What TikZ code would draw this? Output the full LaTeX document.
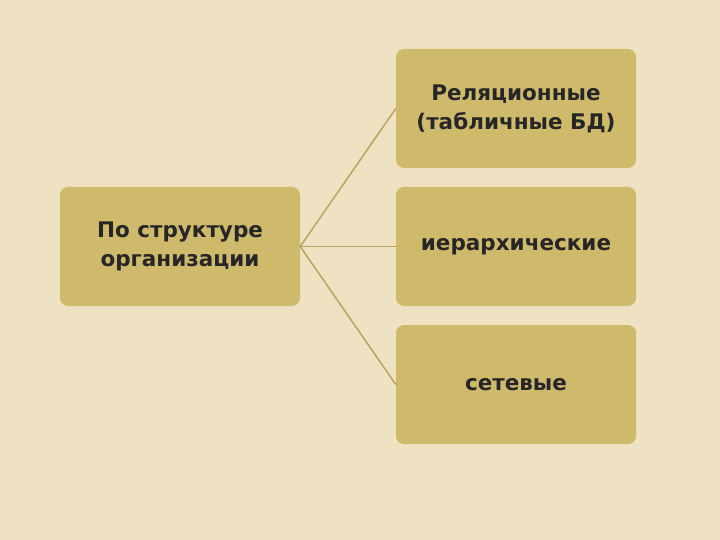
\documentclass[tikz,border=0pt]{standalone}
\usepackage{fontspec}
\setmainfont{DejaVu Sans}
\begin{document}
\begin{tikzpicture}[x=1pt,y=-1pt,
  box/.style={fill=boxc,rounded corners=8pt,minimum width=240pt,minimum height=119pt,align=center,font=\fontsize{21.5}{29}\selectfont\bfseries,inner sep=0pt,text=black!85},
  conn/.style={draw=linec,line width=1.5pt}]
\definecolor{bg}{HTML}{EFE2C2}
\definecolor{boxc}{HTML}{CFBA6C}
\definecolor{linec}{HTML}{B8A45A}
\fill[bg] (0,0) rectangle (720,540);
\useasboundingbox (0,0) rectangle (720,540);
\node[box] (l) at (180,246.5) {По структуре\\организации};
\node[box] (r1) at (516,108.5) {Реляционные\\(табличные БД)};
\node[box] (r2) at (516,246.5) {иерархические};
\node[box] (r3) at (516,384.5) {сетевые};
\draw[conn] (l.east) -- (r1.west);
\draw[conn] (l.east) -- (r2.west);
\draw[conn] (l.east) -- (r3.west);
\end{tikzpicture}
\end{document}
